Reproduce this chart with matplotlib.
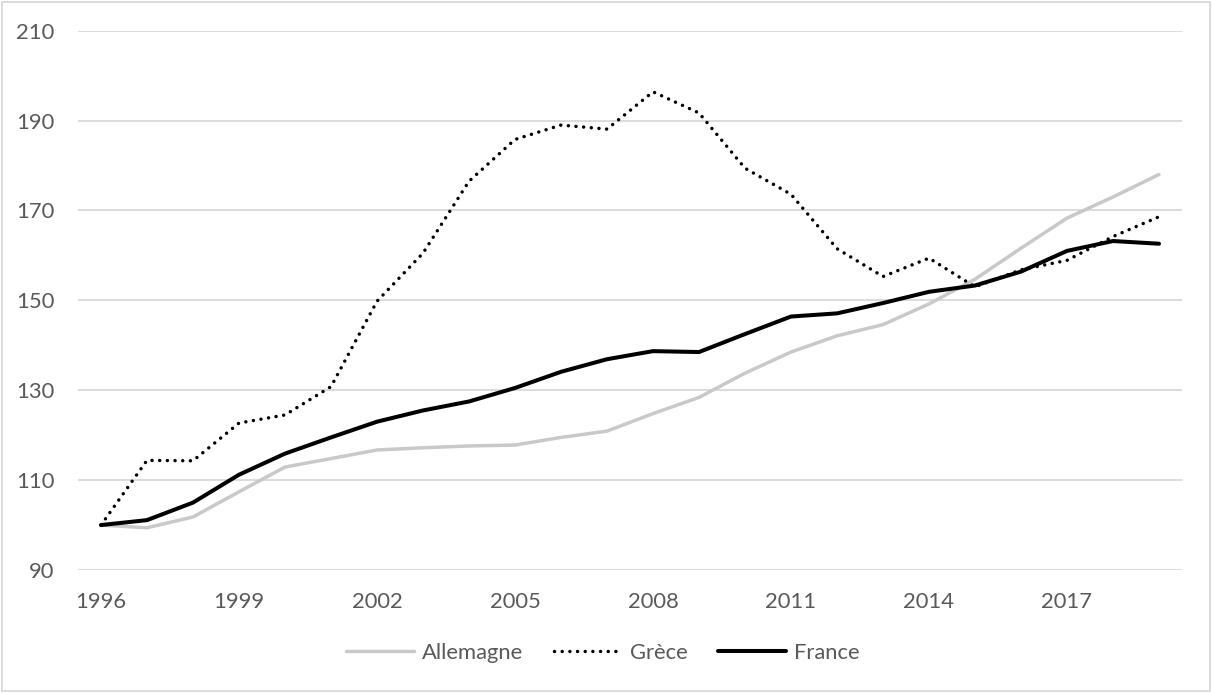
import matplotlib.pyplot as plt
from matplotlib.patches import Rectangle
import numpy as np

# Indice base 100 en 1996
annees = list(range(1996, 2020))
allemagne = [100, 99.4, 101.8, 107.4, 112.9, 114.8, 116.7, 117.2, 117.6, 117.8, 119.5, 120.9,
             124.8, 128.4, 133.8, 138.5, 142.1, 144.6, 149.2, 154.7, 161.6, 168.3, 173.0, 178.0]
grece = [100, 114.4, 114.3, 122.7, 124.5, 130.8, 149.8, 160.5, 176.5, 185.8, 189.0, 188.1,
         196.4, 191.7, 179.4, 173.6, 161.5, 155.3, 159.4, 153.0, 156.8, 158.9, 164.2, 168.6]
france = [100, 101.1, 105.0, 111.2, 115.9, 119.5, 123.0, 125.5, 127.5, 130.5, 134.1, 136.9,
          138.7, 138.5, 142.5, 146.4, 147.1, 149.4, 151.9, 153.3, 156.4, 161.0, 163.2, 162.6]

plt.rcParams['font.family'] = ['Lato', 'DejaVu Sans']
texte = '#595959'
grille = '#d9d9d9'

fig = plt.figure(figsize=(12.12, 6.93), dpi=100)
ax = fig.add_axes([78 / 1212, 1 - 570 / 693, 1104 / 1212, (570 - 30.7) / 693])

x = np.arange(len(annees))
ax.plot(x, allemagne, color='#c9c9c9', lw=2.5, label='Allemagne', solid_capstyle='round')
ax.plot(x, grece, color='black', lw=2.5, linestyle=(0, (0.01, 2.2)), dash_capstyle='round',
        label='Grèce')
ax.plot(x, france, color='black', lw=2.9, label='France', solid_capstyle='round')

ax.set_xlim(-0.5, len(annees) - 0.5)
ax.set_ylim(90, 210)
ax.set_yticks(range(90, 211, 20))
ax.set_xticks(x[::3])
ax.set_xticklabels([str(a) for a in annees[::3]])
ax.grid(axis='y', color=grille, lw=1.3)
ax.set_axisbelow(True)
for s in ax.spines.values():
    s.set_visible(False)
ax.tick_params(length=0, labelsize=15.8, labelcolor=texte)
ax.tick_params(axis='x', pad=16)
ax.tick_params(axis='y', pad=17)

fig.legend(loc='center', bbox_to_anchor=(603 / 1212, 1 - 653 / 693), ncol=3, frameon=False,
           fontsize=15.8, labelcolor=texte, handlelength=3.1, handletextpad=0.35,
           columnspacing=1.4)

# cadre du graphique
fig.patches.append(Rectangle((2 / 1212, 2 / 693), 1 - 4 / 1212, 1 - 4 / 693,
                             transform=fig.transFigure, fill=False, edgecolor=grille, lw=1.3))

fig.savefig('out.png', dpi=100, facecolor='white')
